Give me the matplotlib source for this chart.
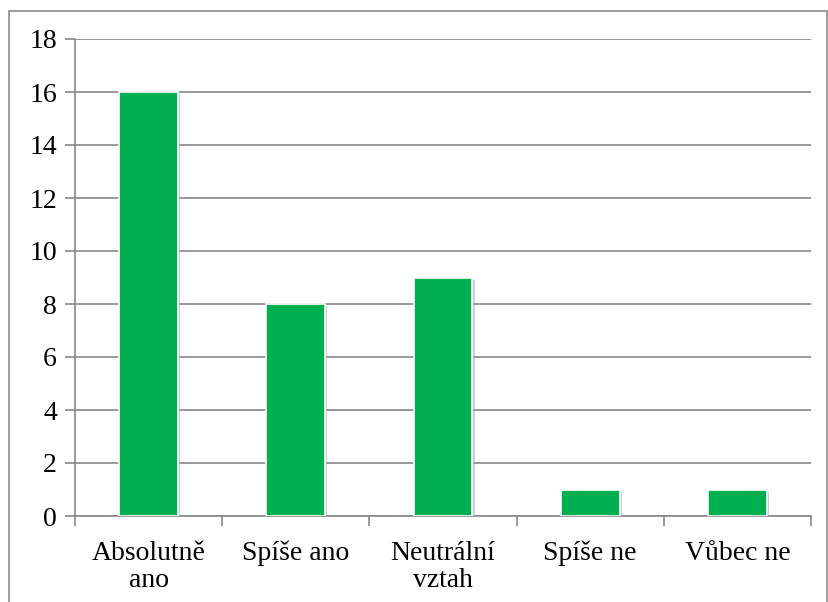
import matplotlib.pyplot as plt
import matplotlib.patheffects as path_effects
from matplotlib.patches import Rectangle
import numpy as np

categories = ['Absolutně\nano', 'Spíše ano', 'Neutrální\nvztah', 'Spíše ne', 'Vůbec ne']
counts = [16, 8, 9, 1, 1]
yticks = [0, 2, 4, 6, 8, 10, 12, 14, 16, 18]

plt.rcParams['font.family'] = ['Liberation Serif', 'DejaVu Serif']

W, H = 829, 602
fig = plt.figure(figsize=(W / 100, H / 100), dpi=100)
ax = fig.add_axes([75 / W, 1 - 516 / H, (811 - 75) / W, (516 - 39) / H])

grid_color = '#878787'

# outer chart frame, open at the bottom
fig.patches.append(Rectangle((9 / W, -0.05), (827 - 9) / W, (591 / H) + 0.05,
                             transform=fig.transFigure, fill=False,
                             edgecolor='#8c8c8c', linewidth=1.2))

x = np.arange(len(categories))
bars = ax.bar(x, counts, width=0.4, color='#00b050', edgecolor='white',
              linewidth=1.2, zorder=3)
for bar in bars:
    bar.set_path_effects([path_effects.SimplePatchShadow(offset=(1.5, -1.5), shadow_rgbFace='#b0b0b0', alpha=0.6),
                          path_effects.Normal()])

ax.set_xlim(-0.5, len(categories) - 0.5)
ax.set_ylim(0, 18)
ax.set_yticks(yticks)
ax.yaxis.grid(True, color=grid_color, linewidth=1.2, zorder=0)
ax.set_axisbelow(True)

for side in ['top', 'right']:
    ax.spines[side].set_visible(False)
for side in ['left', 'bottom']:
    ax.spines[side].set_color(grid_color)
    ax.spines[side].set_linewidth(1.2)

ax.tick_params(axis='y', length=7, width=1.2, color=grid_color, labelsize=20, pad=6)
ax.set_xticks(np.arange(len(categories) + 1) - 0.5)
ax.set_xticklabels([])
ax.set_xticks(x, minor=True)
ax.set_xticklabels(categories, minor=True, fontsize=20, linespacing=1.12)
ax.tick_params(axis='x', which='major', length=7, width=1.2, color=grid_color)
ax.tick_params(axis='x', which='minor', length=0, pad=18)

plt.savefig('out.png', dpi=100)
